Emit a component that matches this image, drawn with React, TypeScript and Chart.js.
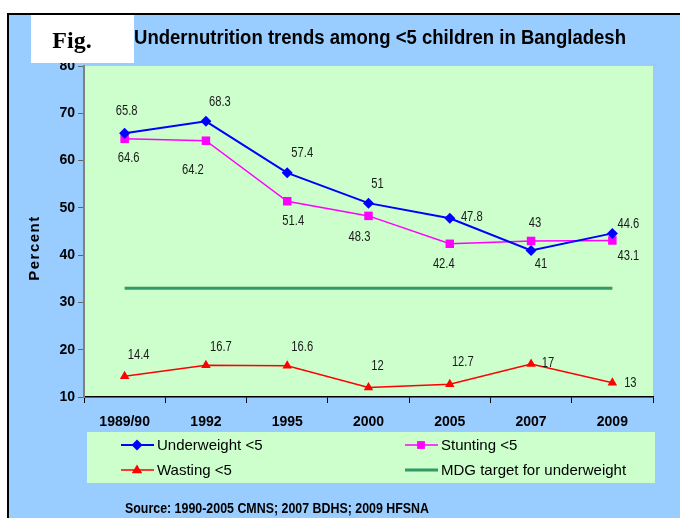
import React, { useEffect, useRef } from 'react';
import { Chart, registerables } from 'chart.js';

Chart.register(...registerables);

const categories = ['1989/90', '1992', '1995', '2000', '2005', '2007', '2009'];
const underweight = [65.8, 68.3, 57.4, 51, 47.8, 41, 44.6];
const stunting = [64.6, 64.2, 51.4, 48.3, 42.4, 43, 43.1];
const wasting = [14.4, 16.7, 16.6, 12, 12.7, 17, 13];
const mdgTarget = [33, 33, 33, 33, 33, 33, 33];
const yMin = 10;
const yMax = 80;
const yStep = 10;

const titleText = 'Undernutrition trends among <5 children in Bangladesh';
const figText = 'Fig.';
const yTitle = 'Percent';
const sourceText = 'Source: 1990-2005 CMNS; 2007 BDHS; 2009 HFSNA';

// label offsets in pixels (style only)
const uwOffsets = [[2, -22], [14, -19], [15, -20], [9, -19], [22, -1], [10, 14], [16, -9]];
const stOffsets = [[4, 19], [-13, 29], [6, 20], [-9, 21], [-6, 20], [4, -18], [16, 16]];
const waOffsets = [[14, -21], [15, -18], [15, -19], [9, -21], [13, -22], [17, -1], [18, 0]];

const SANS = '"Liberation Sans", Arial, sans-serif';
const BLUE_BG = '#99CCFF';
const GREEN_BG = '#CCFFCC';

function drawMarker(ctx: CanvasRenderingContext2D, style: string, x: number, y: number, r: number, color: string) {
  ctx.save();
  ctx.fillStyle = color;
  ctx.beginPath();
  if (style === 'rectRot') {
    ctx.moveTo(x, y - r);
    ctx.lineTo(x + r, y);
    ctx.lineTo(x, y + r);
    ctx.lineTo(x - r, y);
    ctx.closePath();
  } else if (style === 'rect') {
    const s = r * Math.SQRT1_2;
    ctx.rect(x - s, y - s, 2 * s, 2 * s);
  } else if (style === 'triangle') {
    ctx.moveTo(x, y - r);
    ctx.lineTo(x + r * 0.95, y + r * 0.6);
    ctx.lineTo(x - r * 0.95, y + r * 0.6);
    ctx.closePath();
  }
  ctx.fill();
  ctx.restore();
}

function narrowText(ctx: CanvasRenderingContext2D, text: string, x: number, y: number, sx: number) {
  ctx.save();
  ctx.translate(x, y);
  ctx.scale(sx, 1);
  ctx.fillText(text, 0, 0);
  ctx.restore();
}

const decorPlugin = {
  id: 'decor',
  beforeDraw(chart: any) {
    const ctx = chart.ctx as CanvasRenderingContext2D;
    const { chartArea } = chart;
    ctx.save();
    ctx.fillStyle = '#ffffff';
    ctx.fillRect(0, 0, chart.width, chart.height);
    ctx.fillStyle = BLUE_BG;
    ctx.fillRect(8, 14, chart.width - 8, chart.height - 14);
    ctx.strokeStyle = '#000000';
    ctx.lineWidth = 2;
    ctx.beginPath();
    ctx.moveTo(8, chart.height);
    ctx.lineTo(8, 14);
    ctx.lineTo(chart.width, 14);
    ctx.stroke();
    ctx.fillStyle = GREEN_BG;
    ctx.fillRect(chartArea.left, chartArea.top, chartArea.right - chartArea.left, chartArea.bottom - chartArea.top);
    ctx.restore();
  },
  afterDatasetsDraw(chart: any) {
    const ctx = chart.ctx as CanvasRenderingContext2D;
    ctx.save();
    ctx.fillStyle = '#1a1a1a';
    ctx.font = `14px ${SANS}`;
    ctx.textAlign = 'center';
    ctx.textBaseline = 'middle';
    chart.data.datasets.forEach((ds: any, di: number) => {
      const offs = ds.labelOffsets;
      if (!offs) return;
      const meta = chart.getDatasetMeta(di);
      meta.data.forEach((pt: any, i: number) => {
        const v = ds.data[i];
        narrowText(ctx, String(v), pt.x + offs[i][0], pt.y + offs[i][1], 0.8);
      });
    });
    ctx.restore();
  },
  afterDraw(chart: any) {
    const ctx = chart.ctx as CanvasRenderingContext2D;
    ctx.save();
    // Fig box
    ctx.fillStyle = '#ffffff';
    ctx.fillRect(31, 15, 103, 48);
    ctx.fillStyle = '#000000';
    ctx.font = `bold 24px "Liberation Serif", "Times New Roman", serif`;
    ctx.textAlign = 'center';
    ctx.textBaseline = 'alphabetic';
    ctx.fillText(figText, 72, 48);
    // Title
    ctx.font = `bold 20px ${SANS}`;
    ctx.textBaseline = 'middle';
    ctx.fillText(titleText, 380, 38, 492);
    // y title
    ctx.save();
    ctx.translate(35, 248);
    ctx.rotate(-Math.PI / 2);
    ctx.font = `bold 15px ${SANS}`;
    (ctx as any).letterSpacing = '1.5px';
    ctx.fillText(yTitle, 0, 0);
    ctx.restore();
    // Legend box
    ctx.fillStyle = GREEN_BG;
    ctx.fillRect(87, 432, 568, 51);
    const cols = [121, 405];
    const rows = [445, 470];
    const items = chart.data.datasets;
    items.forEach((ds: any, i: number) => {
      const x = cols[i % 2];
      const y = rows[Math.floor(i / 2)];
      ctx.strokeStyle = ds.borderColor;
      ctx.lineWidth = ds.borderWidth;
      ctx.beginPath();
      ctx.moveTo(x, y);
      ctx.lineTo(x + 33, y);
      ctx.stroke();
      if (ds.pointRadius > 0) drawMarker(ctx, ds.pointStyle, x + 16, y, 5.5, ds.borderColor);
      ctx.fillStyle = '#000000';
      ctx.font = `15px ${SANS}`;
      ctx.textAlign = 'left';
      ctx.textBaseline = 'middle';
      ctx.fillText(ds.label, x + 36, y + 1);
    });
    // Source
    ctx.fillStyle = '#000000';
    ctx.font = `bold 15px ${SANS}`;
    ctx.textAlign = 'left';
    ctx.textBaseline = 'middle';
    ctx.fillText(sourceText, 125, 509, 304);
    ctx.restore();
  },
};

export default function App() {
  const ref = useRef<HTMLCanvasElement>(null);
  useEffect(() => {
    if (!ref.current) return;
    const chart = new Chart(ref.current, {
      type: 'line',
      data: {
        labels: categories,
        datasets: [
          {
            label: 'Underweight <5',
            data: underweight,
            borderColor: '#0000FF',
            backgroundColor: '#0000FF',
            borderWidth: 2,
            pointStyle: 'rectRot',
            pointRadius: 5.5,
            pointBorderWidth: 0,
            labelOffsets: uwOffsets,
          } as any,
          {
            label: 'Stunting <5',
            data: stunting,
            borderColor: '#FF00FF',
            backgroundColor: '#FF00FF',
            borderWidth: 1.5,
            pointStyle: 'rect',
            pointRadius: 6,
            pointBorderWidth: 0,
            labelOffsets: stOffsets,
          } as any,
          {
            label: 'Wasting <5',
            data: wasting,
            borderColor: '#FF0000',
            backgroundColor: '#FF0000',
            borderWidth: 1.5,
            pointStyle: 'triangle',
            pointRadius: 5.5,
            pointBorderWidth: 0,
            labelOffsets: waOffsets,
          } as any,
          {
            label: 'MDG target for underweight',
            data: mdgTarget,
            borderColor: '#339966',
            backgroundColor: '#339966',
            borderWidth: 3,
            pointRadius: 0,
          } as any,
        ],
      },
      options: {
        animation: false,
        responsive: false,
        devicePixelRatio: 1,
        layout: { padding: { left: 0, right: 27, top: 66, bottom: 81 } },
        plugins: {
          legend: { display: false },
          title: { display: false },
          tooltip: { enabled: false },
        },
        scales: {
          x: {
            offset: true,
            grid: {
              offset: true,
              drawOnChartArea: false,
              drawTicks: true,
              tickLength: 6,
              color: '#000000',
            },
            border: { color: '#000000', width: 1.5 },
            ticks: {
              color: '#000000',
              font: { family: SANS, size: 14, weight: 'bold' },
              padding: 11,
              maxRotation: 0,
            },
            afterFit: (s: any) => {
              s.height = 40;
              s.paddingLeft = 0;
              s.paddingRight = 0;
            },
          },
          y: {
            min: yMin,
            max: yMax,
            ticks: {
              stepSize: yStep,
              color: '#000000',
              font: { family: SANS, size: 14, weight: 'bold' },
              padding: 3,
            },
            grid: {
              drawOnChartArea: false,
              drawTicks: true,
              tickLength: 6,
              color: '#666666',
            },
            border: { color: '#808080', width: 2 },
            afterFit: (s: any) => {
              s.width = 84;
              s.paddingTop = 0;
              s.paddingBottom = 0;
            },
          },
        },
      },
      plugins: [decorPlugin],
    } as any);
    return () => chart.destroy();
  }, []);
  return (
    <div style={{ position: 'fixed', left: 0, top: 0, width: 680, height: 518 }}>
      <canvas ref={ref} width={680} height={518} style={{ display: 'block', width: 680, height: 518 }} />
    </div>
  );
}
